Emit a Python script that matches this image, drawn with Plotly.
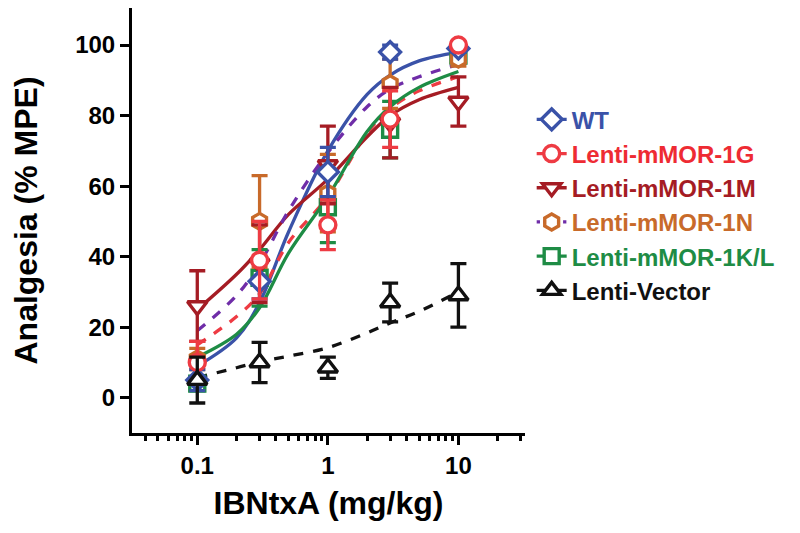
import plotly.graph_objects as go

# ---------------- data ----------------
doses = [0.1, 0.3, 1, 3, 10]

series_names = ["WT", "Lenti-mMOR-1G", "Lenti-mMOR-1M", "Lenti-mMOR-1N",
                "Lenti-mMOR-1K/L", "Lenti-Vector"]

wt_mean = [5, 33, 64, 98, 99]
wt_sem = [3, 5, 7, 2, 1]
g1_mean = [10, 39, 49, 79, 100]
g1_sem = [6, 11, 7, 8, 1]
m1_mean = [26, 38, 66, 78, 84]
m1_sem = [10, 11, 11, 10, 7]
n1_mean = [11, 50, 58, 89, 96]
n1_sem = [3, 13, 11, 7, 2]
kl_mean = [4, 34, 54, 76, 97]
kl_sem = [2, 8, 10, 8, 2]
vec_mean = [5, 10, 8.5, 27, 29]
vec_sem = [6.5, 5.7, 3, 5.5, 9]

# fitted curves
curve_x = [0.1, 0.2, 0.3, 0.5, 1, 2, 3, 5, 10]
wt_curve = [9, 17, 27, 47, 70, 86, 91.5, 95.5, 98]
g1_curve = [15, 23, 29.5, 44, 57, 75, 82, 87, 91]
m1_curve = [25, 35, 42, 52, 62, 74, 80, 84.5, 88]
n1_curve = [19, 29, 38, 53, 69.5, 82.5, 87.5, 91, 94.5]
kl_curve = [11.5, 18, 25.5, 41, 57, 75.5, 82.5, 88, 92.5]
vec_curve = [5.7, 8.5, 10.2, 11.8, 14.2, 18.4, 21.2, 24.5, 30]

x_tickvals = [0.1, 1, 10]
x_ticktext = ["0.1", "1", "10"]
x_minor = [m * 10 ** e for e in (-2, -1, 0, 1) for m in range(2, 10)]
y_tickvals = [0, 20, 40, 60, 80, 100]

# ---------------- styles ----------------
FONT = "Liberation Sans, Arial, Helvetica, sans-serif"
styles = [
    # (point color, curve color, symbol, dash, text color, marker size)
    ("#3A52A8", "#3A52A8", "diamond", "solid", "#3A52A8", 16),
    ("#EE3B43", "#EE3B43", "circle", "dash", "#EE2B33", 16),
    ("#A51C24", "#A51C24", "triangle-down", "solid", "#A51C24", 17),
    ("#C86A2A", "#6F2DA8", "hexagon", "dash", "#C86A2A", 16),
    ("#1E8C45", "#1E8C45", "square", "solid", "#1E8C45", 15),
    ("#111111", "#111111", "triangle-up", "dash", "#111111", 17),
]
means = [wt_mean, g1_mean, m1_mean, n1_mean, kl_mean, vec_mean]
sems = [wt_sem, g1_sem, m1_sem, n1_sem, kl_sem, vec_sem]
curves = [wt_curve, g1_curve, m1_curve, n1_curve, kl_curve, vec_curve]

fig = go.Figure()

# curves
for i in range(6):
    pc, cc, sym, dash, tc, ms = styles[i]
    fig.add_trace(go.Scatter(
        x=curve_x, y=curves[i], mode="lines",
        line=dict(color=cc, width=3.3, dash=dash, shape="spline", smoothing=1.0),
        showlegend=False, hoverinfo="skip"))

# points with error bars
order = [4, 3, 2, 0, 1, 5]
for i in order:
    pc, cc, sym, dash, tc, ms = styles[i]
    fig.add_trace(go.Scatter(
        x=doses, y=means[i], mode="markers",
        marker=dict(symbol=sym, size=ms, color="white",
                    line=dict(color=pc, width=3.4)),
        error_y=dict(type="data", array=sems[i], visible=True,
                     color=pc, thickness=3.3, width=8),
        showlegend=False))

# legend entries
for i in range(6):
    pc, cc, sym, dash, tc, ms = styles[i]
    fig.add_trace(go.Scatter(
        x=[None], y=[None], mode="lines+markers",
        name=f"<span style='color:{tc}'><b>{series_names[i]}</b></span>",
        line=dict(color=cc, width=3.3, dash="dot" if i == 3 else "solid"),
        marker=dict(symbol=sym, size=ms, color="white",
                    line=dict(color=pc, width=3.4))))

fig.update_layout(
    width=800, height=533,
    margin=dict(l=124, r=283, t=0, b=108),
    paper_bgcolor="white", plot_bgcolor="white",
    font=dict(family=FONT, color="black", size=24),
    legend=dict(x=1.017, y=0.79, xanchor="left", yanchor="top",
                font=dict(family=FONT, size=24),
                bgcolor="rgba(0,0,0,0)", tracegroupgap=0),
    xaxis=dict(
        type="log", range=[-1.5, 1.51],
        tickvals=x_tickvals, ticktext=x_ticktext,
        ticks="outside", ticklen=9, tickwidth=3, tickcolor="black",
        minor=dict(tickvals=x_minor, ticks="outside", ticklen=5,
                   tickwidth=2.5, tickcolor="black"),
        showline=True, linewidth=3, linecolor="black",
        showgrid=False, zeroline=False, automargin=False,
        tickfont=dict(family=FONT, size=24, weight="bold"),
        title=dict(text="<b>IBNtxA (mg/kg)</b>",
                   font=dict(family=FONT, size=32), standoff=14),
    ),
    yaxis=dict(
        range=[-10, 110.5],
        tickvals=y_tickvals,
        ticks="outside", ticklen=9, tickwidth=3, tickcolor="black",
        showline=True, linewidth=3, linecolor="black",
        showgrid=False, zeroline=False, automargin=False,
        tickfont=dict(family=FONT, size=24, weight="bold"),
        title=dict(text="<b>Analgesia (% MPE)</b>",
                   font=dict(family=FONT, size=32), standoff=32),
    ),
)

fig.write_html("out.html")
